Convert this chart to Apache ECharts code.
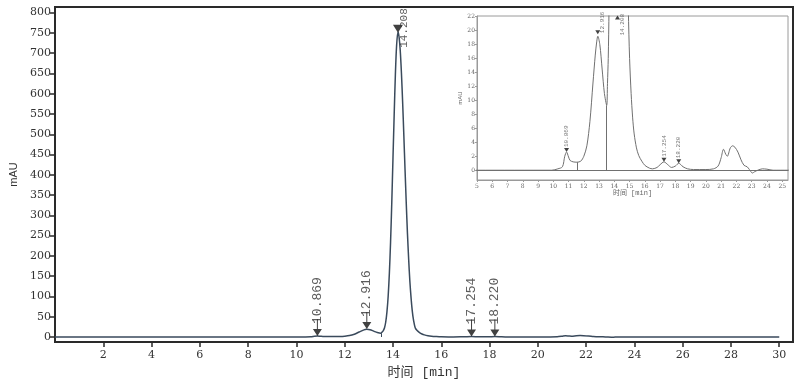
<!DOCTYPE html>
<html>
<head>
<meta charset="utf-8">
<script src="https://cdn.jsdelivr.net/npm/echarts@6/dist/echarts.min.js"></script>
<style>html,body{margin:0;padding:0;background:#fff;}#c{width:800px;height:380px;}</style>
</head>
<body>
<div id="c"></div>
<script>
// ---- data ----
const times = [0, 5, 9.9, 10.3, 10.6, 10.75, 10.869, 11.0, 11.1, 11.3, 11.55, 11.8, 12.0, 12.2, 12.4, 12.6, 12.75, 12.85, 12.916, 13.05, 13.2, 13.35, 13.5, 13.55, 13.6, 13.65, 13.7, 13.75, 13.8, 13.85, 13.9, 13.95, 14.0, 14.05, 14.1, 14.15, 14.208, 14.25, 14.3, 14.35, 14.4, 14.45, 14.5, 14.55, 14.6, 14.65, 14.7, 14.75, 14.8, 14.85, 14.92, 15.0, 15.1, 15.2, 15.3, 15.45, 15.6, 15.8, 16.0, 16.3, 16.5, 16.8, 17.0, 17.254, 17.5, 17.75, 18.0, 18.22, 18.5, 18.8, 19.2, 20.0, 20.5, 20.8, 21.0, 21.15, 21.3, 21.4, 21.6, 21.75, 21.9, 22.1, 22.3, 22.5, 22.7, 22.85, 23.05, 23.2, 23.4, 23.7, 24.0, 24.4, 25.4, 30];
const mau   = [0, 0, 0, 0.2, 0.5, 2.0, 2.6, 1.9, 1.4, 1.2, 1.15, 1.3, 2.0, 3.5, 7, 12.5, 16.5, 18.5, 19.2, 18, 14.5, 11, 9.3, 12.4, 16, 23, 37, 62, 100, 157, 234, 331, 441, 549, 648, 719, 752, 741, 707, 651, 579, 497, 412, 330, 255, 191, 137, 96, 64, 42, 23, 16, 11, 7.5, 5.2, 3.2, 2.1, 1.3, 0.7, 0.3, 0.2, 0.4, 0.8, 1.2, 0.8, 0.4, 0.6, 1.0, 0.5, 0.2, 0.1, 0.1, 0.2, 0.6, 1.8, 3.0, 2.3, 2.0, 3.2, 3.5, 3.3, 2.6, 1.5, 0.7, 0.5, 0.1, -0.4, -0.2, 0.0, 0.2, 0.15, 0.0, 0, 0];

const peakTimes   = [10.869, 12.916, 14.208, 17.254, 18.220];
const peakHeights = [2.6, 19.5, 752, 1.2, 1.0];
const peakLabels  = ['10.869', '12.916', '14.208', '17.254', '18.220'];

const dropTimes  = [11.55, 13.5];
const dropValues = [1.15, 9.3];

const mainXTicks = [2, 4, 6, 8, 10, 12, 14, 16, 18, 20, 22, 24, 26, 28, 30];
const mainYTicks = [0, 50, 100, 150, 200, 250, 300, 350, 400, 450, 500, 550, 600, 650, 700, 750, 800];
const insetXTicks = [5, 6, 7, 8, 9, 10, 11, 12, 13, 14, 15, 16, 17, 18, 19, 20, 21, 22, 23, 24, 25];
const insetYTicks = [0, 2, 4, 6, 8, 10, 12, 14, 16, 18, 20, 22];

const xName = '时间 [min]';
const yName = 'mAU';

// ---- chart ----
const curve = times.map((t, i) => [t, mau[i]]);
const mainLineColor = '#3a4a5c';
const insetLineColor = '#707070';
const serif = 'DejaVu Serif';
const mono = "'Liberation Mono', 'Noto Sans CJK SC', monospace";
const INSET_YMAX = 22.1;

const arrowPath = 'path://M4,0 L5,0 L5,10 L9,10 L4.5,17 L0,10 L4,10 Z';
const triDown = 'path://M0,0 L10,0 L5,8 Z';
const triUp = 'path://M5,0 L10,8 L0,8 Z';

const mainPeaks = peakTimes.map((t, i) => {
  if (i === 2) {
    return {
      value: [t, peakHeights[i]],
      symbol: triDown, symbolSize: [10, 8], symbolOffset: [0, '-40%'],
      label: { position: [11, 23], fontSize: 11 }
    };
  }
  return { value: [t, peakHeights[i]], symbol: arrowPath, symbolSize: [9, 17], symbolOffset: [0, '-50%'],
           label: { position: [4.5, 5] } };
});

const insetPeaks = peakTimes.map((t, i) => {
  const v = Math.min(peakHeights[i], INSET_YMAX - 0.5);
  let pos = [2.5, -1];
  let sym = triDown;
  if (i === 1) pos = [7, 3];
  if (i === 2) { pos = [7, 20]; sym = triUp; }
  return { value: [t, v], symbol: sym, symbolSize: [5, 4], symbolOffset: [0, '-50%'], label: { position: pos } };
});

const chart = echarts.init(document.getElementById('c'), null, { renderer: 'canvas' });
chart.setOption({
  animation: false,
  backgroundColor: '#fff',
  grid: [
    { left: 55, right: 7, top: 7, bottom: 38, show: true, borderColor: '#2a2a2a', borderWidth: 2, backgroundColor: 'transparent', containLabel: false, outerBoundsMode: 'none' },
    { left: 477, right: 12, top: 16, bottom: 200, show: true, borderColor: '#9a9a9a', borderWidth: 1, backgroundColor: '#fff', containLabel: false, outerBoundsMode: 'none' }
  ],
  xAxis: [
    {
      gridIndex: 0, type: 'value', min: 0, max: 30.57,
      name: xName, nameLocation: 'middle', nameGap: 21,
      nameTextStyle: { fontFamily: mono, fontSize: 13, color: '#333' },
      axisLine: { show: true, onZero: false, lineStyle: { color: '#2a2a2a', width: 2 } },
      axisTick: { show: true, inside: false, length: 5, customValues: mainXTicks, lineStyle: { color: '#2a2a2a', width: 1.5 } },
      axisLabel: { show: true, customValues: mainXTicks, fontFamily: serif, fontSize: 11, color: '#333', margin: 8 },
      splitLine: { show: false }
    },
    {
      gridIndex: 1, type: 'value', min: 5, max: 25.38,
      name: xName, nameLocation: 'middle', nameGap: 10,
      nameTextStyle: { fontFamily: mono, fontSize: 7, color: '#666' },
      axisLine: { show: true, onZero: false, lineStyle: { color: '#9a9a9a', width: 1 } },
      axisTick: { show: true, inside: false, length: 2, customValues: insetXTicks, lineStyle: { color: '#9a9a9a' } },
      axisLabel: { show: true, customValues: insetXTicks, fontFamily: serif, fontSize: 6, color: '#666', margin: 3 },
      splitLine: { show: false }
    }
  ],
  yAxis: [
    {
      gridIndex: 0, type: 'value', min: -12.3, max: 813.8,
      name: yName, nameLocation: 'middle', nameGap: 36, nameRotate: 90,
      nameTextStyle: { fontFamily: 'Liberation Sans Narrow, Liberation Sans', fontSize: 11, color: '#333' },
      axisLine: { show: true, onZero: false, lineStyle: { color: '#2a2a2a', width: 2 } },
      axisTick: { show: true, inside: false, length: 5, customValues: mainYTicks, lineStyle: { color: '#2a2a2a', width: 1.5 } },
      axisLabel: { show: true, customValues: mainYTicks, fontFamily: serif, fontSize: 11, color: '#333', margin: 4 },
      splitLine: { show: false }
    },
    {
      gridIndex: 1, type: 'value', min: -1.4, max: INSET_YMAX,
      name: yName, nameLocation: 'middle', nameGap: 13, nameRotate: 90,
      nameTextStyle: { fontFamily: 'Liberation Sans', fontSize: 6, color: '#666' },
      axisLine: { show: true, onZero: false, lineStyle: { color: '#9a9a9a', width: 1 } },
      axisTick: { show: true, inside: false, length: 2, customValues: insetYTicks, lineStyle: { color: '#9a9a9a' } },
      axisLabel: { show: true, customValues: insetYTicks, fontFamily: serif, fontSize: 6, color: '#666', margin: 2 },
      splitLine: { show: false }
    }
  ],
  series: [
    {
      type: 'line', xAxisIndex: 0, yAxisIndex: 0, data: curve, showSymbol: false, smooth: 0.3,
      lineStyle: { color: mainLineColor, width: 1.5 }, z: 3,
      markLine: {
        silent: true, symbol: ['none', 'none'], label: { show: false },
        lineStyle: { color: mainLineColor, width: 1, type: 'solid' },
        data: dropTimes.map((t, i) => [{ coord: [t, 0] }, { coord: [t, dropValues[i]] }])
      }
    },
    {
      type: 'scatter', xAxisIndex: 0, yAxisIndex: 0, data: mainPeaks, z: 5,
      itemStyle: { color: '#111' },
      label: {
        show: true, rotate: 90, align: 'left', verticalAlign: 'middle',
        fontFamily: mono, fontSize: 13, color: '#333',
        formatter: p => peakLabels[p.dataIndex]
      }
    },
    {
      type: 'line', xAxisIndex: 1, yAxisIndex: 1, data: curve, showSymbol: false, smooth: 0.3, clip: true,
      lineStyle: { color: insetLineColor, width: 1 }, z: 3,
      markLine: {
        silent: true, symbol: ['none', 'none'], label: { show: false },
        lineStyle: { color: insetLineColor, width: 1, type: 'solid' },
        data: [{ yAxis: 0 }].concat(dropTimes.map((t, i) => [{ coord: [t, 0] }, { coord: [t, dropValues[i]] }]))
      }
    },
    {
      type: 'scatter', xAxisIndex: 1, yAxisIndex: 1, data: insetPeaks, z: 5,
      itemStyle: { color: '#111' },
      label: {
        show: true, rotate: 90, align: 'left', verticalAlign: 'middle',
        fontFamily: mono, fontSize: 6, color: '#555',
        formatter: p => peakLabels[p.dataIndex]
      }
    }
  ]
});
</script>
</body>
</html>
